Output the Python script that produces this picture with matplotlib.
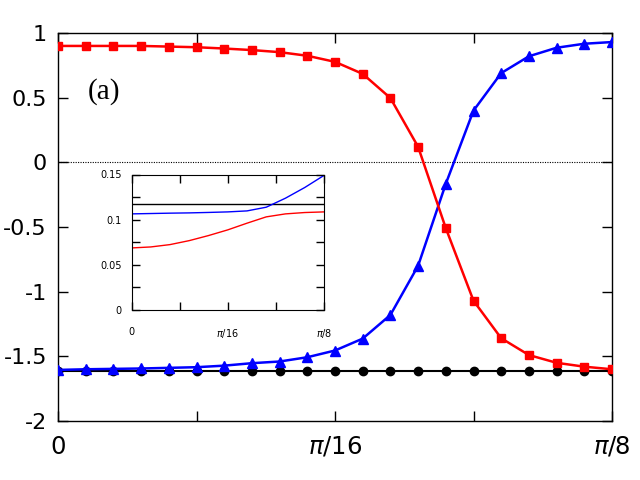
"""Main panel (a) with inset"""

import numpy as np
import matplotlib
matplotlib.use('Agg')
import matplotlib.pyplot as plt

# main panel: 21 points on [0, pi/8]
x_main = np.linspace(0, np.pi / 8, 21)
red_sq = [0.90, 0.90, 0.90, 0.90, 0.895, 0.89, 0.88, 0.868, 0.852, 0.824,
          0.777, 0.684, 0.497, 0.12, -0.509, -1.07, -1.36, -1.49, -1.55, -1.58, -1.60]
blue_tri = [-1.605, -1.60, -1.597, -1.594, -1.589, -1.584, -1.572, -1.553, -1.54, -1.507,
            -1.455, -1.363, -1.18, -0.80, -0.166, 0.40, 0.69, 0.82, 0.886, 0.917, 0.93]
black_circ = [-1.61] * 21

# inset curves: 11 points on [0, pi/8]
x_inset = np.linspace(0, np.pi / 8, 11)
inset_blue = [0.1064, 0.1068, 0.1072, 0.1075, 0.1080, 0.1086, 0.1097, 0.1138, 0.1238, 0.1356, 0.149]
inset_red = [0.0687, 0.0698, 0.0724, 0.0768, 0.0824, 0.0887, 0.0961, 0.1031, 0.1064, 0.1079, 0.1086]
inset_black = [0.1175] * 11

main_yticks = [1, 0.5, 0, -0.5, -1, -1.5, -2]
main_ylabels = ['1', '0.5', '0', '-0.5', '-1', '-1.5', '-2']
inset_yticks = [0, 0.025, 0.05, 0.075, 0.1, 0.125, 0.15]
inset_ylabels = ['0', '', '0.05', '', '0.1', '', '0.15']
x_ticks = [0, np.pi / 32, np.pi / 16, 3 * np.pi / 32, np.pi / 8]
x_labels = ['0', '', r'$\pi$/16', '', r'$\pi$/8']


fig = plt.figure(figsize=(6.4, 4.8), dpi=100)
ax = fig.add_axes([58 / 640, 59 / 480, 554 / 640, 388 / 480])
ax.axhline(0, color='black', lw=0.8, dashes=(1, 1.2))
ax.plot(x_main, black_circ, '-o', color='black', lw=1.5, ms=6, zorder=3)
ax.plot(x_main, blue_tri, '-^', color='#0000ff', lw=1.8, ms=6.5, zorder=4)
ax.plot(x_main, red_sq, '-s', color='#ff0000', lw=1.8, ms=6, zorder=5)
ax.set_xlim(0, np.pi / 8)
ax.set_ylim(-2, 1)
ax.set_xticks(x_ticks)
ax.set_xticklabels(x_labels, fontsize=17.5)
ax.set_yticks(main_yticks)
ax.set_yticklabels(main_ylabels, fontsize=16)
ax.tick_params(direction='in', length=7.5, width=1, top=True, right=True, pad=8)
ax.tick_params(axis='x', pad=10)
for s in ax.spines.values():
    s.set_linewidth(1)
ax.text(0.053, 0.85, '(a)', transform=ax.transAxes, fontsize=21,
        family='Liberation Serif', va='center', ha='left')

ins = fig.add_axes([131.5 / 640, 170 / 480, 192.5 / 640, 135.5 / 480])
ins.plot(x_inset, inset_black, color='black', lw=1)
ins.plot(x_inset, inset_blue, color='#0000ff', lw=1)
ins.plot(x_inset, inset_red, color='#ff0000', lw=1)
ins.set_xlim(0, np.pi / 8)
ins.set_ylim(0, 0.15)
ins.set_xticks(x_ticks)
ins.set_xticklabels(x_labels, fontsize=7)
ins.set_yticks(inset_yticks)
ins.set_yticklabels(inset_ylabels, fontsize=7)
ins.tick_params(direction='in', length=6, width=1, top=True, right=True)
ins.tick_params(axis='x', pad=12)
ins.tick_params(axis='y', pad=7)

fig.savefig('out.png', dpi=100)
